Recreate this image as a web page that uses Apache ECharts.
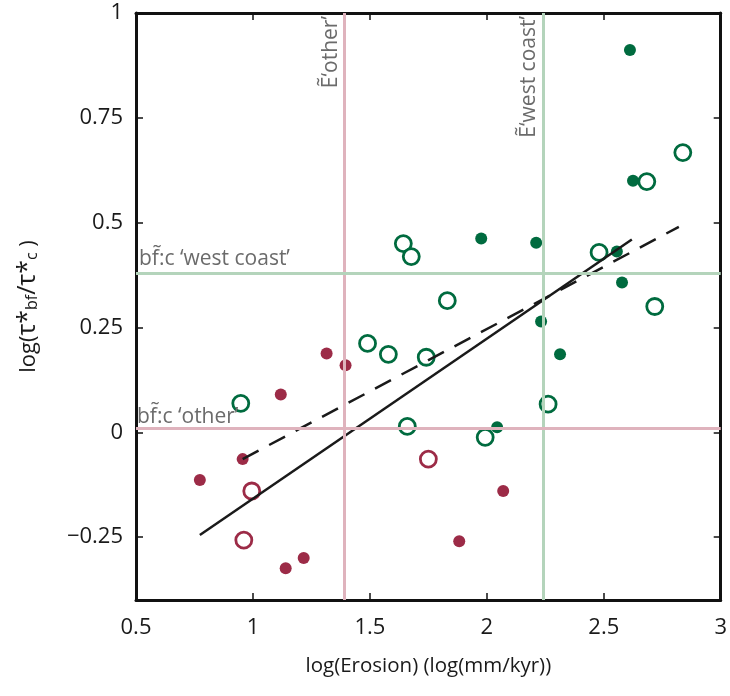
<!DOCTYPE html>
<html>
<head>
<meta charset="utf-8">
<script src="https://cdn.jsdelivr.net/npm/echarts@6/dist/echarts.min.js"></script>
<style>
  html, body { margin: 0; padding: 0; background: #fff; }
  #chart { width: 730px; height: 696px; }
</style>
</head>
<body>
<div id="chart"></div>
<script>
// Erosion rate vs. critical stress ratio, by region
const otherFilled = [[0.773, -0.114], [0.956, -0.064], [1.119, 0.090], [1.315, 0.188], [1.396, 0.160],
  [1.140, -0.324], [1.217, -0.300], [1.882, -0.260], [2.070, -0.140]];
const otherOpen = [[0.995, -0.140], [0.961, -0.257], [1.750, -0.064]];
const westFilled = [[2.612, 0.912], [2.625, 0.600], [1.976, 0.462], [2.211, 0.452], [2.556, 0.431],
  [2.578, 0.357], [2.232, 0.264], [2.313, 0.186], [2.044, 0.012]];
const westOpen = [[0.948, 0.069], [1.643, 0.450], [1.677, 0.419], [1.831, 0.314], [1.490, 0.212],
  [1.579, 0.186], [1.741, 0.179], [1.660, 0.014], [1.993, -0.012], [2.262, 0.067], [2.480, 0.429],
  [2.684, 0.598], [2.838, 0.667], [2.718, 0.300]];

// regression fits
const fitSolid = [[0.773, -0.245], [2.62, 0.46]];
const fitDashed = [[0.956, -0.064], [2.821, 0.490]];

// reference values
const erosionOther = 1.39;
const erosionWest = 2.24;
const ratioOther = 0.012;
const ratioWest = 0.381;

const xTicks = [0.5, 1, 1.5, 2, 2.5, 3];
const yTicks = [-0.25, 0, 0.25, 0.5, 0.75, 1];

const RED = '#9c2b47';
const GREEN = '#006b3f';
const PINK_LINE = '#dfb3bd';
const GREEN_LINE = '#b4d4bb';
const FONT = 'Open Sans';

const chart = echarts.init(document.getElementById('chart'), null, { renderer: 'canvas' });

const axisLineStyle = { show: true, onZero: false, lineStyle: { color: '#111', width: 3 } };
const tickStyle = { show: true, inside: true, length: 7, lineStyle: { color: '#111', width: 1.5 } };
const fmt = v => String(v).replace('-', '\u2212');

const refLabel = {
  show: true, color: '#6b6b6b', fontFamily: FONT, fontSize: 21, distance: 3
};

chart.setOption({
  animation: false,
  grid: { left: 136, right: 8, top: 13, bottom: 96, containLabel: false },
  xAxis: [
    {
      type: 'value', min: 0.5, max: 3, position: 'bottom',
      axisLine: axisLineStyle,
      axisTick: Object.assign({ customValues: xTicks }, tickStyle),
      axisLabel: { customValues: xTicks, formatter: fmt, color: '#1a1a1a', fontFamily: FONT, fontSize: 22, margin: 17 },
      splitLine: { show: false },
      name: 'log(Erosion) (log(mm/kyr))', nameLocation: 'middle', nameGap: 56,
      nameTextStyle: { color: '#1a1a1a', fontFamily: FONT, fontSize: 20.5 }
    },
    {
      type: 'value', min: 0.5, max: 3, position: 'top',
      axisLine: axisLineStyle,
      axisTick: Object.assign({ customValues: xTicks }, tickStyle),
      axisLabel: { show: false }, splitLine: { show: false }
    }
  ],
  yAxis: [
    {
      type: 'value', min: -0.4, max: 1, position: 'left',
      axisLine: axisLineStyle,
      axisTick: Object.assign({ customValues: yTicks }, tickStyle),
      axisLabel: { customValues: yTicks, formatter: fmt, color: '#1a1a1a', fontFamily: FONT, fontSize: 22, margin: 13 },
      splitLine: { show: false },
      name: '{m|log(}{t|τ*}{s|bf}{t|/τ*}{s|c}{m| )}', nameLocation: 'middle', nameGap: 96, nameRotate: 90,
      nameTextStyle: {
        color: '#1a1a1a', fontFamily: FONT, fontSize: 22,
        rich: {
          m: { fontFamily: FONT, fontSize: 22, color: '#1a1a1a', lineHeight: 34, verticalAlign: 'bottom' },
          t: { fontFamily: FONT, fontSize: 25, color: '#1a1a1a', lineHeight: 34, verticalAlign: 'bottom' },
          s: { fontFamily: FONT, fontSize: 16, color: '#1a1a1a', lineHeight: 12, verticalAlign: 'bottom' }
        }
      }
    },
    {
      type: 'value', min: -0.4, max: 1, position: 'right',
      axisLine: axisLineStyle,
      axisTick: Object.assign({ customValues: yTicks }, tickStyle),
      axisLabel: { show: false }, splitLine: { show: false }
    }
  ],
  series: [
    {
      name: 'reference', type: 'line', data: [], silent: true,
      markLine: {
        silent: true, symbol: 'none', animation: false,
        data: [
          { xAxis: erosionOther, lineStyle: { color: PINK_LINE, width: 3, type: 'solid' },
            label: Object.assign({ position: 'insideEndTop', formatter: 'Ẽ‘other’' }, refLabel) },
          { xAxis: erosionWest, lineStyle: { color: GREEN_LINE, width: 3, type: 'solid' },
            label: Object.assign({ position: 'insideEndTop', formatter: 'Ẽ‘west coast’' }, refLabel) },
          { yAxis: ratioOther, lineStyle: { color: PINK_LINE, width: 3, type: 'solid' },
            label: Object.assign({ position: 'insideStartTop', formatter: 'bf\u0303:c ‘other’' }, refLabel, { distance: 1 }) },
          { yAxis: ratioWest, lineStyle: { color: GREEN_LINE, width: 3, type: 'solid' },
            label: Object.assign({ position: 'insideStartTop', formatter: 'bf\u0303:c ‘west coast’' }, refLabel) }
        ]
      }
    },
    {
      name: 'fit', type: 'line', data: fitSolid, symbol: 'none', silent: true,
      lineStyle: { color: '#1a1a1a', width: 2.5, type: 'solid' }
    },
    {
      name: 'fit dashed', type: 'line', data: fitDashed, symbol: 'none', silent: true,
      lineStyle: { color: '#1a1a1a', width: 2.5, type: [18, 12] }
    },
    {
      name: 'other filled', type: 'scatter', data: otherFilled, symbol: 'circle', symbolSize: 12,
      itemStyle: { color: RED, opacity: 1 }
    },
    {
      name: 'other open', type: 'scatter', data: otherOpen, symbol: 'circle', symbolSize: 16,
      itemStyle: { color: '#fff', borderColor: RED, borderWidth: 2.8, opacity: 1 }
    },
    {
      name: 'west filled', type: 'scatter', data: westFilled, symbol: 'circle', symbolSize: 12,
      itemStyle: { color: GREEN, opacity: 1 }
    },
    {
      name: 'west open', type: 'scatter', data: westOpen, symbol: 'circle', symbolSize: 16,
      itemStyle: { color: '#fff', borderColor: GREEN, borderWidth: 2.8, opacity: 1 }
    }
  ]
});
</script>
</body>
</html>
